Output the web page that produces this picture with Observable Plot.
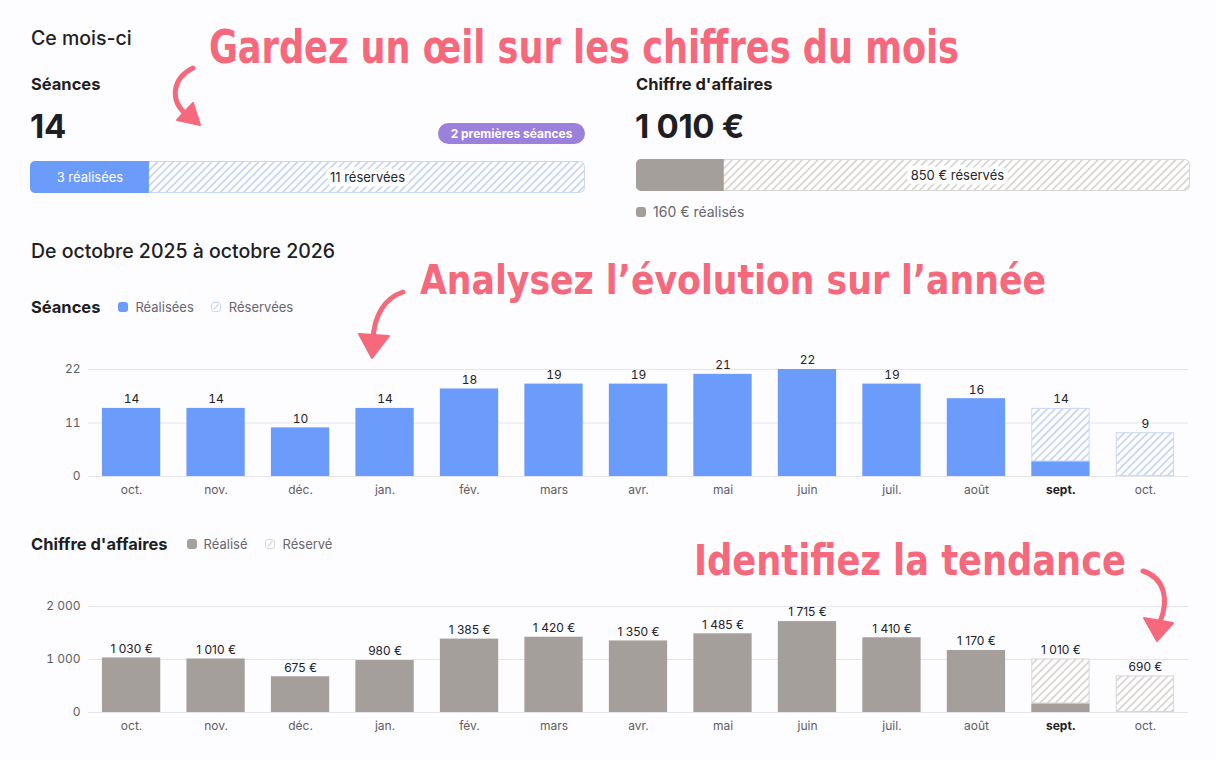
<!DOCTYPE html>
<html lang="fr"><head><meta charset="utf-8">
<script src="https://cdn.jsdelivr.net/npm/d3@7"></script>
<script src="https://cdn.jsdelivr.net/npm/@observablehq/plot@0.6"></script>
<style>
body{margin:0;background:#fdfcfe;font-family:Inter,"Noto Sans",sans-serif;color:#1e1e24;}
#page{position:relative;width:1216px;height:760px;overflow:hidden;}
.abs{position:absolute;white-space:nowrap;}
.h1{font-size:19.5px;font-weight:500;line-height:24px;}
.h2{font-size:16.5px;font-weight:700;line-height:20px;}
.big{font-size:33px;font-weight:700;line-height:38px;letter-spacing:-0.3px;}
.badge{background:#9b80dc;color:#fff;font-size:12px;font-weight:700;border-radius:11px;height:21px;line-height:21px;text-align:center;}
.bar{overflow:hidden;border-radius:5px;}
.leg{font-size:13px;color:#67676f;line-height:16px;display:flex;align-items:center;}
.sw{display:inline-block;width:10px;height:10px;border-radius:3px;margin-right:7px;}
.swh{width:10px;height:10px;margin-right:8px;}
#notes{position:absolute;left:0;top:0;pointer-events:none;}
</style></head>
<body>
<svg width="0" height="0" style="position:absolute">
<defs>
<pattern id="hatchBlue" patternUnits="userSpaceOnUse" width="5.5" height="5.5" patternTransform="rotate(45)">
<rect width="5.5" height="5.5" fill="#ffffff"/>
<line x1="2.75" y1="-1" x2="2.75" y2="6.5" stroke="#c3d2f2" stroke-width="1.6"/>
</pattern>
<pattern id="hatchGrey" patternUnits="userSpaceOnUse" width="5.5" height="5.5" patternTransform="rotate(45)">
<rect width="5.5" height="5.5" fill="#ffffff"/>
<line x1="2.75" y1="-1" x2="2.75" y2="6.5" stroke="#d4d0ce" stroke-width="1.6"/>
</pattern>
</defs>
</svg>
<div id="page">
  <div class="abs h1" style="left:31px;top:26px;">Ce mois-ci</div>
  <div class="abs h2" style="left:31px;top:74px;">Séances</div>
  <div class="abs big" style="left:30px;top:107px;" id="bigSessions"></div>
  <div class="abs badge" style="left:438px;top:123px;width:147px;" id="badge"></div>
  <div class="abs bar" style="left:30px;top:161px;width:555px;height:32px;" id="barSessions"></div>

  <div class="abs h2" style="left:636px;top:74px;">Chiffre d'affaires</div>
  <div class="abs big" style="left:635px;top:107px;" id="bigRevenue"></div>
  <div class="abs bar" style="left:636px;top:159px;width:554px;height:32px;" id="barRevenue"></div>
  <div class="abs leg" style="left:636px;top:204px;font-size:14px;"><span class="sw" style="background:#a59f9b"></span><span id="revDoneLeg"></span></div>

  <div class="abs h1" style="left:31px;top:239px;">De octobre 2025 à octobre 2026</div>

  <div class="abs" style="left:31px;top:297px;display:flex;align-items:center;">
    <span class="h2" style="margin-right:18px;">Séances</span>
    <span class="leg"><span class="sw" style="background:#6b9cfb"></span>Réalisées</span>
    <span class="leg" style="margin-left:17px;"><svg class="swh" viewBox="0 0 10 10"><rect x="0.5" y="0.5" width="9" height="9" rx="2.5" fill="#fff" stroke="#cad7f2"/><line x1="2.5" y1="7.5" x2="7.5" y2="2.5" stroke="#cad7f2" stroke-width="1.2"/></svg>Réservées</span>
  </div>
  <div class="abs" id="chartSessions" style="left:0;top:340px;"></div>

  <div class="abs" style="left:31px;top:534px;display:flex;align-items:center;">
    <span class="h2" style="margin-right:19px;">Chiffre d'affaires</span>
    <span class="leg"><span class="sw" style="background:#a59f9b"></span>Réalisé</span>
    <span class="leg" style="margin-left:17px;"><svg class="swh" viewBox="0 0 10 10"><rect x="0.5" y="0.5" width="9" height="9" rx="2.5" fill="#fff" stroke="#d9d6d4"/><line x1="2.5" y1="7.5" x2="7.5" y2="2.5" stroke="#d9d6d4" stroke-width="1.2"/></svg>Réservé</span>
  </div>
  <div class="abs" id="chartRevenue" style="left:0;top:580px;"></div>

  <svg id="notes" width="1216" height="760">
    <g fill="#f6697c" font-family="'DejaVu Sans Condensed','DejaVu Sans',sans-serif" font-weight="bold">
      <text x="209" y="63" font-size="47" textLength="750" lengthAdjust="spacingAndGlyphs">Gardez un œil sur les chiffres du mois</text>
      <text x="420" y="294" font-size="41" textLength="626" lengthAdjust="spacingAndGlyphs">Analysez l’évolution sur l’année</text>
      <text x="694" y="575" font-size="42" textLength="432" lengthAdjust="spacingAndGlyphs">Identifiez la tendance</text>
    </g>
    <g fill="none" stroke="#f6697c" stroke-width="5" stroke-linecap="round">
      <path d="M193,68 C173,78 168,100 188,116"/>
      <path d="M403,292 C385,298 374,315 373,340"/>
      <path d="M1143,571 C1165,578 1169,600 1160,622"/>
    </g>
    <g fill="#f6697c" stroke="#f6697c" stroke-width="2" stroke-linejoin="round">
      <polygon points="200,125 177,120 193,103"/>
      <polygon points="372,358 359,334 389,336"/>
      <polygon points="1157,641 1144,618 1173,623"/>
    </g>
  </svg>
</div>
<script>
// ---- Data ----
const months = ["oct.","nov.","déc.","jan.","fév.","mars","avr.","mai","juin","juil.","août","sept.","oct."];
const currentMonth = 11;
const sessionsDone   = [14,14,10,14,18,19,19,21,22,19,16,3,0];
const sessionsBooked = [0,0,0,0,0,0,0,0,0,0,0,11,9];
const revenueDone    = [1030,1010,675,980,1385,1420,1350,1485,1715,1410,1170,160,0];
const revenueBooked  = [0,0,0,0,0,0,0,0,0,0,0,850,690];
const sessionTicks = [0,11,22];
const revenueTicks = [0,1000,2000];
const monthSessionsDone = 3;
const monthSessionsBooked = 11;
const firstSessions = 2;
const monthRevenueDone = 160;
const monthRevenueBooked = 850;

// ---- Formatting ----
const fr = d3.formatLocale({decimal:",", thousands:"\u00a0", grouping:[3], currency:["","\u00a0€"]});
const fmtInt = fr.format(",d");
const euro = v => fmtInt(v) + "\u00a0€";

document.getElementById("bigSessions").textContent = monthSessionsDone + monthSessionsBooked;
document.getElementById("badge").textContent = firstSessions + " premières séances";
document.getElementById("bigRevenue").textContent = euro(monthRevenueDone + monthRevenueBooked);
document.getElementById("revDoneLeg").textContent = euro(monthRevenueDone) + " réalisés";

const FONT = "Inter, 'Noto Sans', sans-serif";

function progressBar(el, {done, booked, width, color, hatch, hatchStroke, doneLabel, bookedLabel}) {
  const total = done + booked;
  const chart = Plot.plot({
    width, height: 32, margin: 0,
    style: {background: "transparent", fontFamily: FONT, fontSize: "13px"},
    x: {domain: [0, total], axis: null},
    marks: [
      Plot.barX([total], {x1: 0, x2: d => d, fill: `url(#${hatch})`, stroke: hatchStroke, strokeWidth: 1, rx: 5, inset: 0.5}),
      Plot.barX([done], {x1: 0, x2: d => d, fill: color}),
      ...(doneLabel ? [Plot.text([done], {x: d => d / 2, text: () => doneLabel, fill: "#ffffff", fontSize: 13})] : []),
      Plot.text([done], {x: d => d + booked / 2, text: () => bookedLabel, fill: "#26262c", stroke: "#ffffff", strokeWidth: 9, fontSize: 13})
    ]
  });
  el.appendChild(chart);
}

progressBar(document.getElementById("barSessions"), {
  done: monthSessionsDone, booked: monthSessionsBooked, width: 555,
  color: "#6b9cfb", hatch: "hatchBlue", hatchStroke: "#cbd8f3",
  doneLabel: monthSessionsDone + " réalisées", bookedLabel: monthSessionsBooked + " réservées"
});
progressBar(document.getElementById("barRevenue"), {
  done: monthRevenueDone, booked: monthRevenueBooked, width: 554,
  color: "#a59f9b", hatch: "hatchGrey", hatchStroke: "#d9d6d4",
  doneLabel: null, bookedLabel: euro(monthRevenueBooked) + " réservés"
});

function monthlyChart(el, {done, booked, ticks, fmtTick, fmtLabel, color, hatch, hatchStroke, mt, mb}) {
  const rows = months.map((m, i) => ({i, done: done[i], booked: booked[i], total: done[i] + booked[i]}));
  const chart = Plot.plot({
    width: 1216, height: 165, marginLeft: 88, marginRight: 28, marginTop: mt, marginBottom: mb,
    style: {fontFamily: FONT, fontSize: "12px", color: "#5d5d65", background: "transparent"},
    x: {type: "band", domain: d3.range(months.length), paddingInner: 0.31, paddingOuter: 0.165, round: false,
        tickFormat: i => months[i], tickSize: 0, tickPadding: 9, label: null},
    y: {domain: [0, ticks[ticks.length - 1]], ticks, tickFormat: fmtTick, tickSize: 0, tickPadding: 8, label: null},
    marks: [
      Plot.gridY(ticks, {stroke: "#e4e4ec", strokeOpacity: 1}),
      Plot.barY(rows.filter(d => d.booked > 0), {x: "i", y1: "done", y2: "total", fill: `url(#${hatch})`, stroke: hatchStroke, strokeWidth: 1, inset: 0.5}),
      Plot.barY(rows.filter(d => d.done > 0), {x: "i", y1: 0, y2: "done", fill: color}),
      Plot.text(rows, {x: "i", y: "total", text: d => fmtLabel(d.total), dy: -9, fill: "#222228", fontSize: 12})
    ]
  });
  d3.select(chart).selectAll("text").filter(function() { return this.textContent === months[currentMonth]; })
    .attr("font-weight", "bold").attr("fill", "#1e1e24");
  el.appendChild(chart);
}

monthlyChart(document.getElementById("chartSessions"), {
  done: sessionsDone, booked: sessionsBooked, ticks: sessionTicks,
  fmtTick: d => d, fmtLabel: d => d,
  color: "#6b9cfb", hatch: "hatchBlue", hatchStroke: "#cbd8f3", mt: 29, mb: 29
});
monthlyChart(document.getElementById("chartRevenue"), {
  done: revenueDone, booked: revenueBooked, ticks: revenueTicks,
  fmtTick: d => fmtInt(d), fmtLabel: euro,
  color: "#a59f9b", hatch: "hatchGrey", hatchStroke: "#d9d6d4", mt: 26, mb: 33
});
</script>
</body></html>
